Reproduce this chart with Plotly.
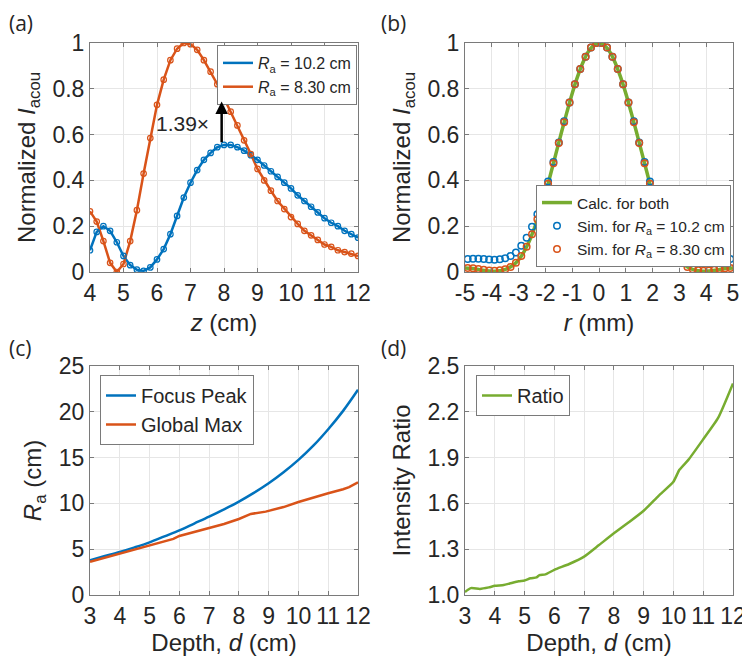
import plotly.graph_objects as go

# ---------------- data ----------------
# (a) axial profiles
z_cm = [4.0, 4.2, 4.4, 4.6, 4.8, 5.0, 5.2, 5.4, 5.6, 5.8, 6.0, 6.2, 6.4, 6.6, 6.8, 7.0,
        7.2, 7.4, 7.6, 7.8, 8.0, 8.2, 8.4, 8.6, 8.8, 9.0, 9.2, 9.4, 9.6, 9.8, 10.0,
        10.2, 10.4, 10.6, 10.8, 11.0, 11.2, 11.4, 11.6, 11.8, 12.0]
I_ra102 = [0.095, 0.175, 0.200, 0.180, 0.130, 0.070, 0.030, 0.010, 0.005, 0.020, 0.055,
           0.100, 0.165, 0.245, 0.325, 0.390, 0.445, 0.490, 0.520, 0.545, 0.555, 0.555,
           0.545, 0.530, 0.510, 0.490, 0.465, 0.440, 0.415, 0.390, 0.365, 0.335, 0.310,
           0.285, 0.260, 0.235, 0.215, 0.200, 0.180, 0.165, 0.150]
I_ra830 = [0.265, 0.220, 0.135, 0.040, 0.000, 0.035, 0.135, 0.270, 0.430, 0.585, 0.730,
           0.840, 0.925, 0.975, 1.000, 0.995, 0.970, 0.925, 0.875, 0.820, 0.760, 0.700,
           0.640, 0.575, 0.515, 0.450, 0.400, 0.355, 0.310, 0.275, 0.240, 0.210, 0.180,
           0.160, 0.140, 0.120, 0.110, 0.095, 0.087, 0.080, 0.070]
arrow_z = 7.93
arrow_from = 0.56
arrow_to = 0.745
ratio_label = "1.39×"

# (b) lateral profiles
r_sim = [-4.9, -4.7, -4.5, -4.3, -4.1, -3.9, -3.7, -3.5, -3.3, -3.1, -2.9, -2.7, -2.5,
         -2.3, -2.1, -1.9, -1.7, -1.5, -1.3, -1.1, -0.9, -0.7, -0.5, -0.3, -0.1,
         0.1, 0.3, 0.5, 0.7, 0.9, 1.1, 1.3, 1.5, 1.7, 1.9, 2.1, 2.3, 2.5, 2.7, 2.9,
         3.1, 3.3, 3.5, 3.7, 3.9, 4.1, 4.3, 4.5, 4.7, 4.9]
sim_ra102 = [0.057, 0.058, 0.058, 0.057, 0.055, 0.054, 0.056, 0.060, 0.070, 0.085, 0.115,
             0.150, 0.198, 0.252, 0.320, 0.395, 0.480, 0.565, 0.658, 0.740, 0.820, 0.887,
             0.940, 0.980, 1.000,
             1.000, 0.980, 0.940, 0.887, 0.820, 0.740, 0.658, 0.565, 0.480, 0.395, 0.320,
             0.252, 0.198, 0.150, 0.115, 0.085, 0.070, 0.060, 0.056, 0.054, 0.055, 0.057,
             0.058, 0.058, 0.057]
sim_ra830 = [0.018, 0.016, 0.013, 0.010, 0.007, 0.006, 0.008, 0.012, 0.022, 0.040, 0.070,
             0.110, 0.165, 0.230, 0.300, 0.385, 0.475, 0.563, 0.654, 0.740, 0.820, 0.886,
             0.940, 0.980, 1.000,
             1.000, 0.980, 0.940, 0.886, 0.820, 0.740, 0.654, 0.563, 0.475, 0.385, 0.300,
             0.230, 0.165, 0.110, 0.070, 0.040, 0.022, 0.012, 0.008, 0.006, 0.007, 0.010,
             0.013, 0.016, 0.018]
r_calc = [-5.0, -4.8, -4.6, -4.4, -4.2, -4.0, -3.8, -3.6, -3.4, -3.2, -3.0, -2.8, -2.6,
          -2.4, -2.2, -2.0, -1.8, -1.6, -1.4, -1.2, -1.0, -0.8, -0.6, -0.4, -0.2, 0.0,
          0.2, 0.4, 0.6, 0.8, 1.0, 1.2, 1.4, 1.6, 1.8, 2.0, 2.2, 2.4, 2.6, 2.8, 3.0,
          3.2, 3.4, 3.6, 3.8, 4.0, 4.2, 4.4, 4.6, 4.8, 5.0]
calc_both = [0.018, 0.016, 0.013, 0.009, 0.005, 0.003, 0.004, 0.008, 0.016, 0.030, 0.053,
             0.088, 0.135, 0.195, 0.262, 0.340, 0.430, 0.520, 0.610, 0.697, 0.780, 0.853,
             0.915, 0.962, 0.990, 1.000,
             0.990, 0.962, 0.915, 0.853, 0.780, 0.697, 0.610, 0.520, 0.430, 0.340, 0.262,
             0.195, 0.135, 0.088, 0.053, 0.030, 0.016, 0.008, 0.004, 0.003, 0.005, 0.009,
             0.013, 0.016, 0.018]

# (c) aperture radius vs depth
depth_fp = [3.0, 3.5, 4.0, 4.5, 5.0, 5.5, 6.0, 6.5, 7.0, 7.5, 8.0, 8.5, 9.0, 9.5, 10.0,
            10.5, 11.0, 11.5, 12.0]
ra_focus_peak = [3.8, 4.25, 4.7, 5.2, 5.75, 6.4, 7.05, 7.8, 8.55, 9.35, 10.2, 11.15, 12.2,
                 13.4, 14.75, 16.3, 18.1, 20.1, 22.4]
depth_gm = [3.0, 3.5, 4.0, 4.5, 5.0, 5.5, 5.8, 6.0, 6.3, 6.6, 7.0, 7.5, 8.0, 8.4, 8.9,
            9.5, 10.0, 10.5, 11.0, 11.5, 11.7, 12.0]
ra_global_max = [3.62, 4.08, 4.52, 4.95, 5.45, 5.9, 6.12, 6.45, 6.72, 6.92, 7.3, 7.75, 8.3,
                 8.85, 9.1, 9.6, 10.15, 10.65, 11.1, 11.55, 11.78, 12.3]

# (d) intensity ratio vs depth
depth_ratio = [3.0, 3.2, 3.5, 3.8, 4.0, 4.3, 4.5, 4.8, 5.0, 5.2, 5.4, 5.5, 5.7, 6.0, 6.5,
               7.0, 7.5, 8.0, 8.5, 9.0, 9.5, 10.0, 10.2, 10.5, 11.0, 11.5, 12.0]
intensity_ratio = [1.02, 1.045, 1.04, 1.05, 1.06, 1.065, 1.075, 1.09, 1.095, 1.11, 1.115,
                   1.13, 1.135, 1.165, 1.203, 1.251, 1.327, 1.404, 1.476, 1.552, 1.65, 1.742,
                   1.82, 1.885, 2.02, 2.16, 2.386]

# ---------------- style ----------------
BLUE = "#0072BD"
ORANGE = "#D95319"
GREEN = "#77AC30"
FONT = "Liberation Sans, Arial, sans-serif"
TXT = "#262626"
WIN_W, WIN_H = 750, 664
OFF = 8                      # page body margin of the browser
W, H = WIN_W - OFF, WIN_H - OFF


def fx(x):
    """window pixel x -> paper fraction"""
    return (x - OFF) / W


def fy(y):
    """window pixel y (from top) -> paper fraction"""
    return 1 - (y - OFF) / H


fig = go.Figure()

# (a)
fig.add_trace(go.Scatter(x=z_cm, y=I_ra102, mode="lines", line=dict(color=BLUE, width=2.5),
                         name="<i>R</i><sub>a</sub> = 10.2 cm", xaxis="x", yaxis="y", legend="legend"))
fig.add_trace(go.Scatter(x=z_cm, y=I_ra830, mode="lines", line=dict(color=ORANGE, width=2.5),
                         name="<i>R</i><sub>a</sub> = 8.30 cm", xaxis="x", yaxis="y", legend="legend"))
fig.add_trace(go.Scatter(x=z_cm, y=I_ra102, mode="markers", showlegend=False,
                         marker=dict(symbol="circle-open", size=5.5, color=BLUE, line=dict(width=1.2)),
                         xaxis="x", yaxis="y"))
fig.add_trace(go.Scatter(x=z_cm, y=I_ra830, mode="markers", showlegend=False,
                         marker=dict(symbol="circle-open", size=5.5, color=ORANGE, line=dict(width=1.2)),
                         xaxis="x", yaxis="y"))

# (b)
fig.add_trace(go.Scatter(x=r_calc, y=calc_both, mode="lines", line=dict(color=GREEN, width=3.5, shape="spline"),
                         name="Calc. for both", xaxis="x2", yaxis="y2", legend="legend2"))
fig.add_trace(go.Scatter(x=r_sim, y=sim_ra102, mode="markers",
                         marker=dict(symbol="circle-open", size=6.5, color=BLUE, line=dict(width=1.5)),
                         name="Sim. for <i>R</i><sub>a</sub> = 10.2 cm", xaxis="x2", yaxis="y2", legend="legend2"))
fig.add_trace(go.Scatter(x=r_sim, y=sim_ra830, mode="markers",
                         marker=dict(symbol="circle-open", size=6.5, color=ORANGE, line=dict(width=1.5)),
                         name="Sim. for <i>R</i><sub>a</sub> = 8.30 cm", xaxis="x2", yaxis="y2", legend="legend2"))

# (c)
fig.add_trace(go.Scatter(x=depth_fp, y=ra_focus_peak, mode="lines", line=dict(color=BLUE, width=2.5, shape="spline"),
                         name="Focus Peak", xaxis="x3", yaxis="y3", legend="legend3"))
fig.add_trace(go.Scatter(x=depth_gm, y=ra_global_max, mode="lines", line=dict(color=ORANGE, width=2.5),
                         name="Global Max", xaxis="x3", yaxis="y3", legend="legend3"))

# (d)
fig.add_trace(go.Scatter(x=depth_ratio, y=intensity_ratio, mode="lines",
                         line=dict(color=GREEN, width=2.5, shape="spline", smoothing=0.5),
                         name="Ratio", xaxis="x4", yaxis="y4", legend="legend4"))

axis_common = dict(
    showline=True, linecolor="#7a7a7a", linewidth=1, mirror="ticks",
    ticks="inside", ticklen=4, tickcolor="#7a7a7a",
    showgrid=True, gridcolor="#e6e6e6", gridwidth=1, zeroline=False,
    automargin=False,
    tickfont=dict(family=FONT, size=23, color=TXT),
    title_font=dict(family=FONT, size=24, color=TXT),
)


def make_axis(dom, anchor, rng, vals, texts, title, standoff):
    d = dict(axis_common)
    d.update(domain=dom, anchor=anchor, range=rng, tickvals=vals, ticktext=texts,
             title=dict(text=title, standoff=standoff))
    return d


ytick_a = [0, 0.2, 0.4, 0.6, 0.8, 1.0]
ytick_a_txt = ["0", "0.2", "0.4", "0.6", "0.8", "1"]
xtick_a = list(range(4, 13))
xtick_b = list(range(-5, 6))
xtick_b_txt = [("-" + str(-v)) if v < 0 else str(v) for v in xtick_b]
xtick_c = list(range(3, 13))
ytick_c = [0, 5, 10, 15, 20, 25]
ytick_d = [1.0, 1.3, 1.6, 1.9, 2.2, 2.5]
ytick_d_txt = ["1.0", "1.3", "1.6", "1.9", "2.2", "2.5"]

dom_xl = [fx(90), fx(358)]
dom_xr = [fx(465), fx(733)]
dom_yt = [fy(272), fy(43)]
dom_yb = [fy(595), fy(366)]

legend_common = dict(bgcolor="white", bordercolor="#7a7a7a", borderwidth=1,
                     font=dict(family=FONT, size=15.5, color=TXT), tracegroupgap=0)

fig.update_layout(
    width=W, height=H, margin=dict(l=0, r=0, t=0, b=0, autoexpand=False),
    paper_bgcolor="white", plot_bgcolor="white",
    xaxis=make_axis(dom_xl, "y", [4, 12], xtick_a, [str(v) for v in xtick_a], "<i>z</i> (cm)", 9),
    yaxis=make_axis(dom_yt, "x", [0, 1], ytick_a, ytick_a_txt, "Normalized <i>I</i><sub>acou</sub>", 10),
    xaxis2=make_axis(dom_xr, "y2", [-5, 5], xtick_b, xtick_b_txt, "<i>r</i> (mm)", 9),
    yaxis2=make_axis(dom_yt, "x2", [0, 1], ytick_a, ytick_a_txt, "Normalized <i>I</i><sub>acou</sub>", 10),
    xaxis3=make_axis(dom_xl, "y3", [3, 12], xtick_c, [str(v) for v in xtick_c], "Depth, <i>d</i> (cm)", 2),
    yaxis3=make_axis(dom_yb, "x3", [0, 25], ytick_c, [str(v) for v in ytick_c], "<i>R</i><sub>a</sub> (cm)", 10),
    xaxis4=make_axis(dom_xr, "y4", [3, 12], xtick_c, [str(v) for v in xtick_c], "Depth, <i>d</i> (cm)", 2),
    yaxis4=make_axis(dom_yb, "x4", [1.0, 2.5], ytick_d, ytick_d_txt, "Intensity Ratio", 10),
    legend=dict(legend_common, x=fx(357), y=fy(45), xanchor="right", yanchor="top",
                font=dict(family=FONT, size=16, color=TXT)),
    legend2=dict(legend_common, x=fx(731), y=fy(267), xanchor="right", yanchor="bottom"),
    legend3=dict(legend_common, x=fx(100), y=fy(375), xanchor="left", yanchor="top",
                 font=dict(family=FONT, size=20, color=TXT)),
    legend4=dict(legend_common, x=fx(476), y=fy(375), xanchor="left", yanchor="top",
                 font=dict(family=FONT, size=20, color=TXT)),
    showlegend=True,
)

# arrow and ratio label in (a)
fig.add_annotation(x=arrow_z, y=arrow_to, ax=arrow_z, ay=arrow_from, xref="x", yref="y",
                   axref="x", ayref="y", text="", showarrow=True, arrowhead=2, arrowsize=1,
                   arrowwidth=2.5, arrowcolor="black")
fig.add_annotation(x=7.62, y=0.648, xref="x", yref="y", text=ratio_label, showarrow=False,
                   xanchor="right", yanchor="middle", font=dict(family=FONT, size=21, color=TXT))

# panel labels
for lab, px, py in [("(a)", 8, 8), ("(b)", 380, 8), ("(c)", 8, 333), ("(d)", 380, 333)]:
    fig.add_annotation(x=fx(px), y=fy(py), xref="paper", yref="paper", text=lab,
                       showarrow=False, xanchor="left", yanchor="top", borderpad=0,
                       font=dict(family="Open Sans, sans-serif", size=21, color=TXT))

fig.write_html("out.html")
